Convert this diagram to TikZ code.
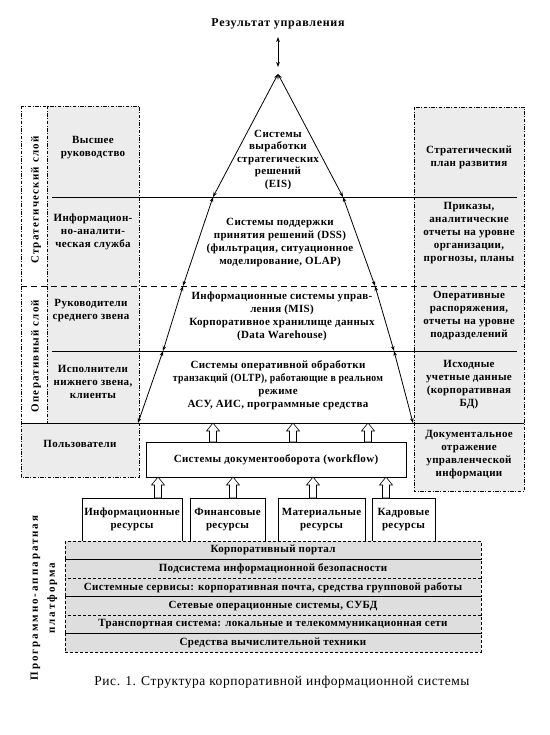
\documentclass[tikz,border=0pt]{standalone}
\usepackage{fontspec}
\usepackage{graphicx}
\setmainfont{Liberation Serif}
\newfontfamily\lbf{Liberation Serif}[LetterSpace=3.0]
\newfontfamily\tbf{Liberation Serif}[LetterSpace=6.0]
\newfontfamily\vbf{Liberation Serif}[LetterSpace=11.0]
\newfontfamily\pbf{Liberation Serif}[LetterSpace=18.0]
\newfontfamily\capf{Liberation Serif}[LetterSpace=4.0]
\usetikzlibrary{arrows.meta,calc}
\definecolor{panelgray}{gray}{0.925}
\definecolor{stackgray}{gray}{0.87}
\tikzset{
  lbl/.style={font=\lbf\bfseries\fontsize{11}{13}\selectfont, align=center, inner sep=0pt},
  vlbl/.style={font=\vbf\bfseries\fontsize{11}{17}\selectfont, align=center, inner sep=0pt, rotate=90},
  plbl/.style={font=\pbf\bfseries\fontsize{11}{17}\selectfont, align=center, inner sep=0pt, rotate=90},
  bi/.style={{Stealth[length=5pt,width=3.6pt]}-{Stealth[length=5pt,width=3.6pt]}, line width=0.8pt},
  hline/.style={line width=0.9pt},
  dline/.style={line width=1pt, dash pattern=on 6pt off 4pt},
  ddot/.style={line width=0.6pt, dash pattern=on 3.5pt off 1.5pt on 1pt off 1.5pt},
  box/.style={draw, line width=0.7pt, fill=white, align=center, inner sep=0pt, font=\lbf\bfseries\fontsize{11}{13}\selectfont},
  row/.style={draw, line width=0.6pt, dash pattern=on 3pt off 2pt, fill=stackgray, minimum width=416, minimum height=18.5, inner sep=0pt, font=\lbf\bfseries\fontsize{11}{13}\selectfont},
  barrow/.style={draw=black, fill=white, line width=0.6pt}
}
\newcommand\blockup[3]{% x, ybottom, ytop
  \path[barrow] (#1-3.5,#2) -- (#1-3.5,#3+8) -- (#1-6.5,#3+8) -- (#1,#3) -- (#1+6.5,#3+8) -- (#1+3.5,#3+8) -- (#1+3.5,#2) -- cycle;}
\begin{document}
\begin{tikzpicture}[x=1pt,y=-1pt]
\useasboundingbox (0,0) rectangle (549,735);
% panels
\fill[panelgray] (47,106) rectangle (139,423);
\fill[panelgray] (21,423) rectangle (139,477);
\fill[panelgray] (414,107) rectangle (524,491);
\draw[ddot] (21,106) rectangle (139,477);
\draw[ddot] (47,106) -- (47,423);
\draw[ddot] (414,107) rectangle (524,491);
% horizontal lines
\coordinate (h1a) at (52,197); \coordinate (h1b) at (517,197);
\coordinate (h2a) at (21,286); \coordinate (h2b) at (524,286);
\coordinate (h3a) at (52,351); \coordinate (h3b) at (517,351);
\coordinate (h4a) at (21,423); \coordinate (h4b) at (524,423);
\draw[hline] (h1a) -- (h1b);
\draw[dline] (h2a) -- (h2b);
\draw[hline] (h3a) -- (h3b);
\draw[hline] (h4a) -- (h4b);
% title
\node[font=\tbf\bfseries\fontsize{12}{14}\selectfont, inner sep=0pt] (title) at (278,24) {Результат управления};
\coordinate (tt) at (278,37);
\coordinate (tb) at (278,67);
\coordinate (A0) at (278,74);
\draw[bi] (tt) -- (tb);
% pyramid
\coordinate (L1) at (213,197); \coordinate (R1) at (343,197);
\coordinate (L2) at (183,286); \coordinate (R2) at (375,286);
\coordinate (L3) at (163,351); \coordinate (R3) at (394,351);
\coordinate (L4) at (138,423); \coordinate (R4) at (413,423);
\draw[bi] (A0) -- (L1); \draw[bi] (A0) -- (R1);
\draw[bi] (L1) -- (L2); \draw[bi] (R1) -- (R2);
\draw[bi] (L2) -- (L3); \draw[bi] (R2) -- (R3);
\draw[bi] (L3) -- (L4); \draw[bi] (R3) -- (R4);
\node[lbl, font=\lbf\bfseries\fontsize{11}{12.5}\selectfont] (eis) at (278,160) {Системы\\выработки\\стратегических\\решений\\(EIS)};
\node[lbl] (dss) at (280,243) {Системы поддержки\\принятия решений (DSS)\\(фильтрация, ситуационное\\моделирование, OLAP)};
\node[lbl] (mis) at (282,316) {Информационные системы управ-\\ления (MIS)\\Корпоративное хранилище данных\\(Data Warehouse)};
\node[lbl] (oltp) at (278,385) {Системы оперативной обработки\\\scalebox{0.89}[1]{транзакций (OLTP), работающие в реальном}\\режиме\\АСУ, АИС, программные средства};
% left panel texts
\node[vlbl] (strat) at (36,200) {Стратегический слой};
\node[vlbl] (oper) at (36,356) {Оперативный слой};
\node[lbl] (top) at (93,148) {Высшее\\руководство};
\node[lbl] (ias) at (93,232) {Информацион-\\но-аналити-\\ческая служба};
\node[lbl] (mid) at (91,311) {Руководители\\среднего звена};
\node[lbl] (low) at (93,382) {Исполнители\\нижнего звена,\\клиенты};
\node[lbl] (users) at (80,444) {Пользователи};
% right panel texts
\node[lbl] (plan) at (469,157) {Стратегический\\план развития};
\node[lbl] (ord) at (469,233) {Приказы,\\аналитические\\отчеты на уровне\\организации,\\прогнозы, планы};
\node[lbl] (opr) at (469,316) {Оперативные\\распоряжения,\\отчеты на уровне\\подразделений};
\node[lbl] (src) at (469,385) {Исходные\\учетные данные\\(корпоративная\\БД)};
\node[lbl] (doc) at (469,455) {Документальное\\отражение\\управленческой\\информации};
% workflow
\node[box, minimum width=260, minimum height=35] (wf) at (276,459.5) {Системы документооборота (workflow)};
% resources
\node[box, minimum width=100, minimum height=43] (r1) at (132,519.5) {Информационные\\ресурсы};
\node[box, minimum width=75, minimum height=43] (r2) at (227.5,519.5) {Финансовые\\ресурсы};
\node[box, minimum width=87, minimum height=43] (r3) at (321.5,519.5) {Материальные\\ресурсы};
\node[box, minimum width=63, minimum height=43] (r4) at (403.5,519.5) {Кадровые\\ресурсы};
% block arrows
\blockup{158}{498}{477}
\blockup{233}{498}{477}
\blockup{313}{498}{477}
\blockup{386}{498}{477}
\blockup{213}{442}{423}
\blockup{293}{442}{423}
\blockup{368}{442}{423}
% stack
\node[row] (s1) at (273,550.25) {Корпоративный портал};
\node[row] (s2) at (273,568.75) {Подсистема информационной безопасности};
\node[row] (s3) at (273,587.25) {Системные сервисы: корпоративная почта, средства групповой работы};
\node[row] (s4) at (273,605.75) {Сетевые операционные системы, СУБД};
\node[row] (s5) at (273,624.25) {Транспортная система: локальные и телекоммуникационная сети};
\node[row] (s6) at (273,642.75) {Средства вычислительной техники};
\node[plbl] (plat) at (44,598) {Программно-аппаратная\\платформа};
% caption
\node[font=\capf\fontsize{13.5}{15}\selectfont, inner sep=0pt] (cap) at (282,682) {Рис. 1. Структура корпоративной информационной системы};
\end{tikzpicture}
\end{document}
